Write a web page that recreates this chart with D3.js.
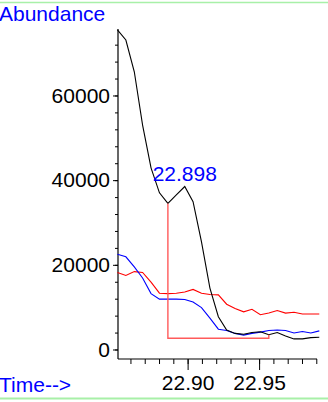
<!DOCTYPE html>
<html><head><meta charset="utf-8">
<script src="https://cdn.jsdelivr.net/npm/d3@7"></script>
<style>
html,body{margin:0;padding:0;background:#fff;}
svg{display:block;}
text{font-family:"Liberation Sans",Arial,sans-serif;}
</style></head>
<body>
<script>
const times = [22.8509,22.8568,22.8627,22.8685,22.8744,22.8803,22.8862,22.8921,22.8980,22.9038,22.9097,22.9156,22.9215,22.9273,22.9332,22.9392,22.9450,22.9509,22.9568,22.9627,22.9685,22.9744,22.9803,22.9862,22.9921];
const blackSeries = [75500,73100,65600,53000,42900,37000,34500,36500,38500,34900,25400,14500,7750,4600,3800,3600,4000,4200,3500,4000,3200,2500,2500,2800,2900];
const blueSeries = [22500,21900,19500,16900,13200,11900,11900,11900,11800,11200,9900,7400,4800,4500,3800,3400,3800,4100,4500,4600,4500,3900,4250,3900,4400];
const redSeries = [18200,17500,18400,18200,15900,13300,13200,13300,13600,14200,13300,13000,12900,10700,9700,8900,9500,8200,8600,9200,8600,8800,8400,8400,8400];
const yTickValues = [0,20000,40000,60000];
const yMinorTicks = [0,4000,8000,12000,16000,20000,24000,28000,32000,36000,40000,44000,48000,52000,56000,60000,64000,68000,72000];
const xTickValues = [22.90,22.95];
const xMinorTicks = [22.86,22.87,22.88,22.89,22.90,22.91,22.92,22.93,22.94,22.95,22.96,22.97,22.98,22.99];
const peakLabel = "22.898";
const peakTime = 22.8980, peakValue = 38500;
const intStart = {t:22.8862, v:34500}, intEnd = {t:22.9568, v:3500}, baselineValue = 2650;

const W=328,H=402;
const svg=d3.select("body").append("svg").attr("width",W).attr("height",H);
svg.append("rect").attr("width",W).attr("height",H).attr("fill","#fff");
// green frame lines
svg.append("line").attr("x1",0).attr("x2",W).attr("y1",2.5).attr("y2",2.5).attr("stroke","#a8f0a8").attr("stroke-width",1.5);
svg.append("line").attr("x1",0).attr("x2",W).attr("y1",398.5).attr("y2",398.5).attr("stroke","#a8f0a8").attr("stroke-width",2);

const x=d3.scaleLinear().domain([22.8513,22.9905]).range([118,317]);
const y=d3.scaleLinear().domain([-2244,75700]).range([359,29]);

const fs="21px";
// y axis
const yAx=svg.append("g").attr("transform","translate(118,0)")
  .call(d3.axisLeft(y).tickValues(yTickValues).tickFormat(d3.format("d")).tickSize(5).tickSizeOuter(0).tickPadding(3));
yAx.select(".domain").remove();
yAx.selectAll("text").attr("font-size",fs).attr("fill","#000").attr("font-family","Liberation Sans, Arial, sans-serif");
const yMin=svg.append("g").attr("transform","translate(118,0)")
  .call(d3.axisLeft(y).tickValues(yMinorTicks).tickFormat("").tickSize(3).tickSizeOuter(0));
yMin.select(".domain").remove();
svg.append("line").attr("x1",118).attr("x2",118).attr("y1",29).attr("y2",359).attr("stroke","#000").attr("stroke-width",1.2);

// x axis
const xAx=svg.append("g").attr("transform","translate(0,359)")
  .call(d3.axisBottom(x).tickValues(xTickValues).tickFormat(d3.format(".2f")).tickSize(11).tickSizeOuter(0).tickPadding(5));
xAx.select(".domain").remove();
xAx.selectAll("text").attr("font-size",fs).attr("fill","#000").attr("font-family","Liberation Sans, Arial, sans-serif");
const xMin=svg.append("g").attr("transform","translate(0,359)")
  .call(d3.axisBottom(x).tickValues(xMinorTicks).tickFormat("").tickSize(5).tickSizeOuter(0));
xMin.select(".domain").remove();
svg.append("line").attr("x1",118).attr("x2",317).attr("y1",359).attr("y2",359).attr("stroke","#000").attr("stroke-width",1.2);

// series
const line=d3.line().x((d,i)=>x(times[i])).y(d=>y(d));
svg.append("path").attr("d",line(redSeries)).attr("fill","none").attr("stroke","#ff0000").attr("stroke-width",1.1);
svg.append("path").attr("d",line(blueSeries)).attr("fill","none").attr("stroke","#0000ff").attr("stroke-width",1.1);
svg.append("path").attr("d",line(blackSeries)).attr("fill","none").attr("stroke","#000").attr("stroke-width",1.1);

// integration baseline
const ip=[[intStart.t,intStart.v],[intStart.t,baselineValue],[intEnd.t,baselineValue],[intEnd.t,intEnd.v]];
svg.append("path").attr("d",d3.line().x(d=>x(d[0])).y(d=>y(d[1]))(ip))
  .attr("fill","none").attr("stroke","#ff5a5a").attr("stroke-width",1.4);

// peak label
svg.append("text").attr("x",x(peakTime)).attr("y",y(peakValue)-5).attr("text-anchor","middle")
  .attr("font-size",fs).attr("fill","#0000ff").text(peakLabel);

// axis titles
svg.append("text").attr("x",-1).attr("y",21).attr("font-size",fs).attr("fill","#0000ff").text("Abundance");
svg.append("text").attr("x",-1).attr("y",391.5).attr("font-size",fs).attr("fill","#0000ff").text("Time-->");
</script>
</body></html>
